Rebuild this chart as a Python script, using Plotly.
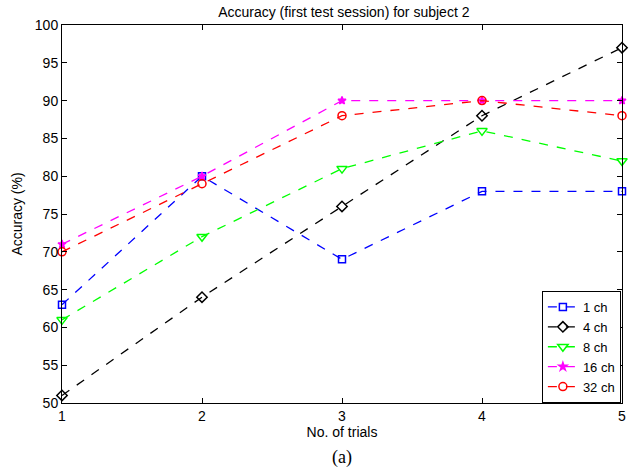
import plotly.graph_objects as go

trials = [1, 2, 3, 4, 5]
ch1 = [63, 80, 69, 78, 78]
ch4 = [51, 64, 76, 88, 97]
ch8 = [61, 72, 81, 86, 82]
ch16 = [71, 80, 90, 90, 90]
ch32 = [70, 79, 88, 90, 88]

series = [
    ("1 ch", ch1, "#0000FF", "square-open", 7),
    ("4 ch", ch4, "#000000", "diamond-open", 8),
    ("8 ch", ch8, "#00FF00", "triangle-down-open", 9),
    ("16 ch", ch16, "#FF00FF", "star", 6),
    ("32 ch", ch32, "#FF0000", "circle-open", 8),
]

FONT = "Arial, Liberation Sans, sans-serif"

fig = go.Figure()
for name, vals, color, sym, sz in series:
    fig.add_trace(go.Scatter(
        x=trials, y=vals, name=name, mode="lines+markers",
        line=dict(color=color, width=1.3, dash="dash"),
        marker=dict(symbol=sym, size=sz, color=color, line=dict(color=color, width=1.5)),
        cliponaxis=False,
    ))

axis_common = dict(
    showgrid=False, zeroline=False, showline=True, linecolor="black", linewidth=1,
    mirror="ticks", ticks="inside", ticklen=5, tickcolor="black",
    tickfont=dict(family=FONT, size=14, color="black"),
)

fig.update_layout(
    width=632, height=473,
    margin=dict(l=62, r=6, t=25, b=70),
    paper_bgcolor="white", plot_bgcolor="white",
    font=dict(family=FONT, size=14, color="black"),
    title=dict(text="Accuracy (first test session) for subject 2", x=0.544, xanchor="center",
               y=0.975, yanchor="middle", font=dict(family=FONT, size=14, color="black")),
    xaxis=dict(range=[1, 5], tickvals=[1, 2, 3, 4, 5], **axis_common,
               title=dict(text="No. of trials", standoff=2, font=dict(family=FONT, size=14))),
    yaxis=dict(range=[50, 100], tickvals=list(range(50, 101, 5)), **axis_common,
               title=dict(text="Accuracy (%)", standoff=8, font=dict(family=FONT, size=14))),
    legend=dict(x=0.998, y=0.0, xanchor="right", yanchor="bottom",
                bordercolor="black", borderwidth=1, bgcolor="white",
                font=dict(family=FONT, size=13), tracegroupgap=0, itemwidth=30),
    annotations=[dict(text="(a)", xref="paper", yref="paper", x=0.5, y=-0.145,
                      xanchor="center", yanchor="middle", showarrow=False,
                      font=dict(family="Times New Roman, Liberation Serif, serif", size=18, color="black"))],
)

fig.write_html("out.html", config={"displayModeBar": False},
               post_script="document.body.style.margin='0px';")
